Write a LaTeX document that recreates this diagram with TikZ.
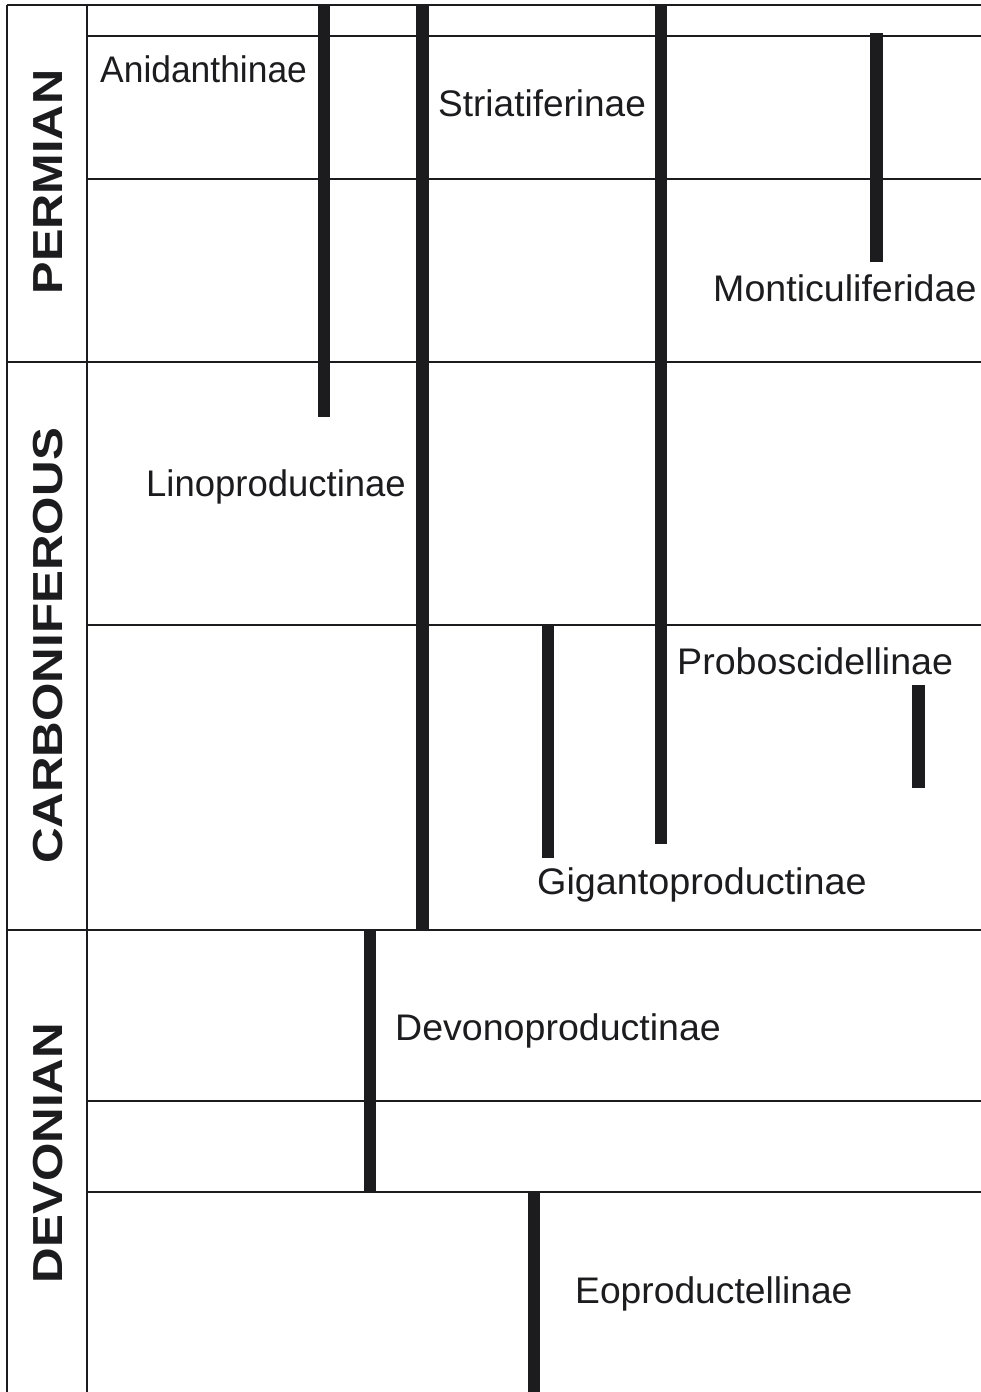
\documentclass[tikz,border=0pt]{standalone}
\usepackage{fontspec}
\setmainfont{Liberation Sans}
\usepackage{graphicx}
\definecolor{ink}{HTML}{1C1C1F}
\tikzset{
  grid/.style={draw=ink, line width=1.4pt},
  bar/.style={draw=ink, line width=12.5pt},
  taxon/.style={anchor=base west, inner sep=0pt, text=ink, font=\fontsize{37}{40}\selectfont},
  period/.style={anchor=base, inner sep=0pt, rotate=90, text=ink, font=\bfseries\fontsize{42}{46}\selectfont}
}
\begin{document}
\begin{tikzpicture}[x=1pt, y=-1pt]
\useasboundingbox (0,0) rectangle (981,1392);
% frame and grid
\coordinate (tl) at (7,5); \coordinate (tr) at (981,5);
\coordinate (bl) at (7,1392);
\coordinate (dt) at (87,5); \coordinate (db) at (87,1392);
\draw[grid, line width=1.1pt] (tl) -- (tr);
\draw[grid] (tl) -- (bl);
\draw[grid] (dt) -- (db);
\foreach \y in {36,179,625,1101,1192}{
  \draw[grid] (87,\y) -- (981,\y);
}
\foreach \y in {362,930}{
  \draw[grid] (7,\y) -- (981,\y);
}
% period labels
\node[period] (perm) at (62,182) {\scalebox{1.16}[1]{PERMIAN}};
\node[period] (carb) at (62,646) {\scalebox{1.175}[1]{CARBONIFEROUS}};
\node[period] (devo) at (62,1153) {\scalebox{1.175}[1]{DEVONIAN}};
% range bars
\coordinate (aniT) at (324,5);   \coordinate (aniB) at (324,417);
\coordinate (linT) at (422.5,5); \coordinate (linB) at (422.5,930);
\coordinate (strT) at (661,5);   \coordinate (strB) at (661,844);
\coordinate (monT) at (876.5,33); \coordinate (monB) at (876.5,262);
\coordinate (gigT) at (548,625); \coordinate (gigB) at (548,858);
\coordinate (proT) at (918.5,685); \coordinate (proB) at (918.5,788);
\coordinate (devT) at (370,930); \coordinate (devB) at (370,1192);
\coordinate (eopT) at (534,1192); \coordinate (eopB) at (534,1392);
\foreach \b in {ani,lin,str,mon,gig,pro,dev,eop}{
  \draw[bar] (\b T) -- (\b B);
}
% taxon labels
\node[taxon] (lani) at (100,82) {\scalebox{0.957}[1]{Anidanthinae}};
\node[taxon] (lstr) at (438,116) {Striatiferinae};
\node[taxon] (lmon) at (713,301) {\scalebox{1.016}[1]{Monticuliferidae}};
\node[taxon] (llin) at (146,496) {\scalebox{0.986}[1]{Linoproductinae}};
\node[taxon] (lpro) at (677,674) {\scalebox{1.016}[1]{Proboscidellinae}};
\node[taxon] (lgig) at (537,894) {\scalebox{1.02}[1]{Gigantoproductinae}};
\node[taxon] (ldev) at (395,1040) {\scalebox{1.015}[1]{Devonoproductinae}};
\node[taxon] (leop) at (575,1303) {\scalebox{1.006}[1]{Eoproductellinae}};
\end{tikzpicture}
\end{document}
